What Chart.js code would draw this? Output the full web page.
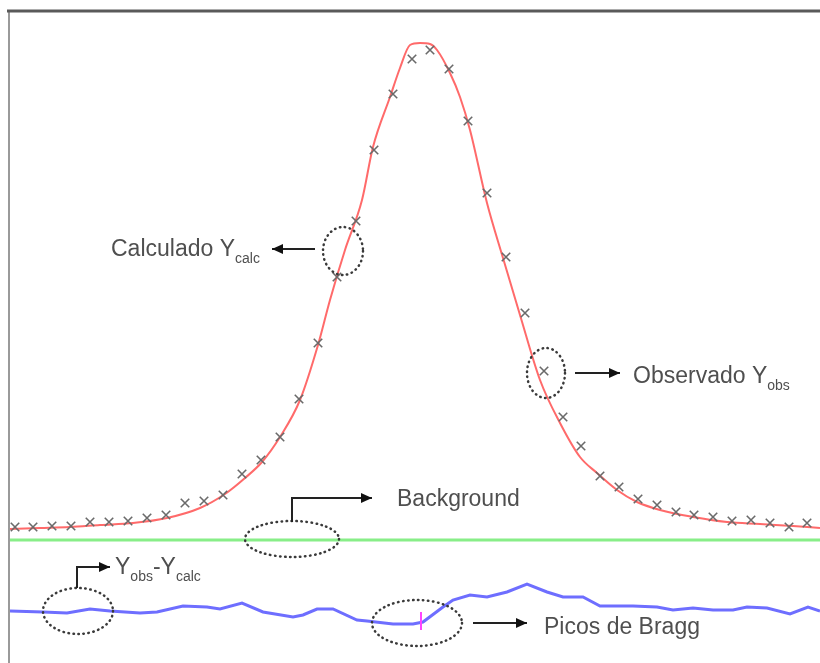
<!DOCTYPE html>
<html>
<head>
<meta charset="utf-8">
<script src="https://cdn.jsdelivr.net/npm/chart.js@4/dist/chart.umd.min.js"></script>
<style>
  html, body { margin: 0; padding: 0; background: #fff; }
  canvas { display: block; }
</style>
</head>
<body>
<canvas id="grafico" width="820" height="663"></canvas>
<script>
// posiciones (canal) e intensidades
const obsX = [15, 33, 52, 71, 90, 109, 128, 147, 166, 185, 204, 223, 242, 261, 280, 299, 318, 337, 356, 374, 393, 412, 430, 449, 468, 487, 506, 525, 544, 563, 581, 600, 619, 638, 657, 676, 694, 713, 732, 751, 770, 789, 807];
const obsY = [13, 13, 14, 14, 18, 18, 19, 22, 25, 37, 39, 45, 66, 80, 103, 141, 197, 263, 319, 390, 446, 481, 490, 471, 419, 347, 283, 227, 169, 123, 94, 64, 53, 41, 35, 28, 25, 23, 19, 20, 17, 13, 17];

const calcX = [10, 40, 70, 100, 133, 167, 200, 225, 245, 262, 280, 300, 318, 330, 345, 362, 373, 390, 400, 410, 420, 430, 437, 450, 460, 470, 487, 503, 520, 540, 560, 580, 597, 617, 637, 660, 693, 727, 760, 793, 820];
const calcY = [11, 12, 13, 15, 17, 22, 32, 46, 62, 78, 103, 140, 195, 240, 290, 340, 393, 443, 472, 495, 497, 496, 490, 467, 443, 410, 337, 282, 225, 160, 117, 83, 67, 50, 38, 30, 23, 18, 16, 14, 12];

const fondoX = [10, 820];
const fondoY = [0, 0];

const difX = [10, 43, 67, 90, 110, 140, 157, 183, 207, 220, 242, 263, 293, 303, 317, 333, 357, 367, 393, 413, 423, 443, 453, 470, 487, 507, 527, 547, 563, 583, 600, 613, 633, 657, 673, 693, 713, 733, 747, 767, 790, 808, 820];
const difY = [-71, -72, -73, -69, -71, -73, -72, -66, -67, -69, -63, -72, -77, -75, -69, -69, -80, -81, -84, -84, -82, -67, -60, -55, -57, -52, -44, -52, -57, -57, -66, -66, -66, -67, -70, -68, -70, -70, -67, -68, -74, -67, -71];

const braggX = [421, 421];
const braggY = [-72, -90];

const aPuntos = (xs, ys) => xs.map((x, i) => ({ x: x, y: ys[i] }));

// notas: posiciones en unidades de los ejes
const notas = [
    { elipse: [343, 289, 20, 24], flecha: [[315, 291], [272, 291]], texto: [111, 284, "Calculado Y", "calc"] },
    { elipse: [546, 167, 19, 25], flecha: [[575, 167], [620, 167]], texto: [633, 157, "Observado Y", "obs"] },
    { elipse: [292, 1, 47, 18], flecha: [[292, 18], [292, 42], [372, 42]], texto: [397, 34, "Background", ""] },
    { elipse: [78, -71, 35, 23], flecha: [[77, -48], [77, -27], [110, -27]], texto: null },
    { elipse: [417, -83, 45, 23], flecha: [[473, -83], [527, -83]], texto: [544, -94, "Picos de Bragg", ""] }
];

const fuente = '"Liberation Sans", Arial, sans-serif';

function textoSub(ctx, x, y, partes) {
    // partes: [texto, esSubindice]
    partes.forEach(p => {
        if (p[1]) {
            ctx.font = "14px " + fuente;
            ctx.fillText(p[0], x, y + 7);
        } else {
            ctx.font = "23px " + fuente;
            ctx.fillText(p[0], x, y);
        }
        x += ctx.measureText(p[0]).width;
    });
}

const pluginNotas = {
    id: "notas",
    beforeDraw(chart) {
        const ctx = chart.ctx;
        ctx.save();
        ctx.fillStyle = "#fff";
        ctx.fillRect(0, 0, chart.width, chart.height);
        ctx.restore();
    },
    afterDatasetsDraw(chart) {
        const ctx = chart.ctx;
        const a = chart.chartArea;
        const sx = chart.scales.x, sy = chart.scales.y;
        const px = v => sx.getPixelForValue(v);
        const py = v => sy.getPixelForValue(v);

        ctx.save();
        // marco
        ctx.strokeStyle = "#9a9a9a";
        ctx.lineWidth = 2;
        ctx.beginPath();
        ctx.moveTo(a.left - 1, a.top);
        ctx.lineTo(a.left - 1, chart.height);
        ctx.stroke();
        ctx.strokeStyle = "#5a5a5a";
        ctx.lineWidth = 3;
        ctx.beginPath();
        ctx.moveTo(a.left - 3, a.top - 1);
        ctx.lineTo(chart.width, a.top - 1);
        ctx.stroke();

        notas.forEach(n => {
            const e = n.elipse;
            ctx.strokeStyle = "#3a3a3a";
            ctx.lineWidth = 2.5;
            ctx.lineCap = "round";
            ctx.setLineDash([0.5, 4.5]);
            ctx.beginPath();
            ctx.ellipse(px(e[0]), py(e[1]), e[2], e[3], 0, 0, Math.PI * 2);
            ctx.stroke();
            ctx.setLineDash([]);
            ctx.lineCap = "butt";

            const f = n.flecha;
            ctx.strokeStyle = "#222";
            ctx.fillStyle = "#111";
            ctx.lineWidth = 2;
            ctx.beginPath();
            f.forEach((p, i) => {
                if (i === 0) ctx.moveTo(px(p[0]), py(p[1]));
                else ctx.lineTo(px(p[0]), py(p[1]));
            });
            ctx.stroke();
            const p1 = f[f.length - 2], p2 = f[f.length - 1];
            const x1 = px(p1[0]), y1 = py(p1[1]), x2 = px(p2[0]), y2 = py(p2[1]);
            const ang = Math.atan2(y2 - y1, x2 - x1);
            ctx.beginPath();
            ctx.moveTo(x2, y2);
            ctx.lineTo(x2 - 11 * Math.cos(ang) + 5 * Math.sin(ang), y2 - 11 * Math.sin(ang) - 5 * Math.cos(ang));
            ctx.lineTo(x2 - 11 * Math.cos(ang) - 5 * Math.sin(ang), y2 - 11 * Math.sin(ang) + 5 * Math.cos(ang));
            ctx.closePath();
            ctx.fill();

            ctx.fillStyle = "#4f4f4f";
            ctx.textBaseline = "alphabetic";
            if (n.texto) {
                const t = n.texto;
                const partes = [[t[2], false]];
                if (t[3]) partes.push([t[3], true]);
                textoSub(ctx, px(t[0]), py(t[1]), partes);
            }
        });

        // Yobs - Ycalc
        ctx.fillStyle = "#4f4f4f";
        textoSub(ctx, px(115), py(-34), [["Y", false], ["obs", true], ["-", false], ["Y", false], ["calc", true]]);
        ctx.restore();
    }
};

const chart = new Chart(document.getElementById("grafico").getContext("2d"), {
    type: "line",
    data: {
        datasets: [
            {
                label: "Observado",
                data: aPuntos(obsX, obsY),
                showLine: false,
                pointStyle: "crossRot",
                pointRadius: 6,
                pointBorderWidth: 1.6,
                pointBorderColor: "#6a6a6a",
                clip: false,
                order: 0
            },
            {
                label: "Calculado",
                data: aPuntos(calcX, calcY),
                borderColor: "rgba(255, 90, 90, 0.9)",
                borderWidth: 2,
                pointRadius: 0,
                cubicInterpolationMode: "monotone",
                order: 1
            },
            {
                label: "Background",
                data: aPuntos(fondoX, fondoY),
                borderColor: "#88ee88",
                borderWidth: 3,
                pointRadius: 0,
                order: 2
            },
            {
                label: "Yobs-Ycalc",
                data: aPuntos(difX, difY),
                borderColor: "#6e6eff",
                borderWidth: 3,
                pointRadius: 0,
                tension: 0,
                order: 3
            },
            {
                label: "Bragg",
                data: aPuntos(braggX, braggY),
                borderColor: "#ff44ff",
                borderWidth: 2,
                pointRadius: 0,
                order: 2
            }
        ]
    },
    options: {
        responsive: false,
        animation: false,
        devicePixelRatio: 1,
        layout: { autoPadding: false, padding: { top: 12, left: 10, right: 0, bottom: 0 } },
        plugins: {
            legend: { display: false },
            tooltip: { enabled: false }
        },
        scales: {
            x: { type: "linear", min: 10, max: 820, display: false },
            y: { type: "linear", min: -123, max: 528, display: false }
        }
    },
    plugins: [pluginNotas]
});
</script>
</body>
</html>
